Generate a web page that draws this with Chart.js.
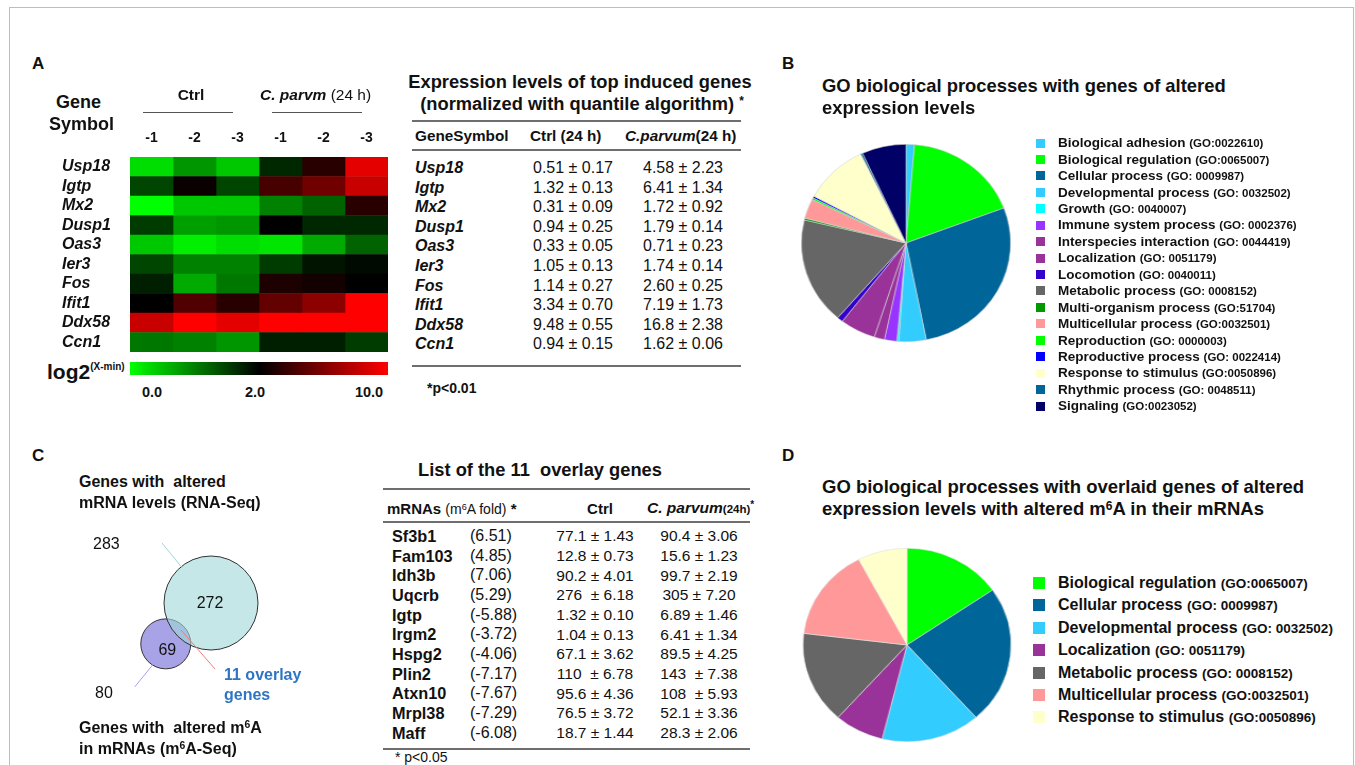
<!DOCTYPE html>
<html>
<head>
<meta charset="utf-8">
<script src="https://cdn.jsdelivr.net/npm/chart.js@4"></script>
<style>
  body { margin: 0; width: 1355px; height: 765px; overflow: hidden; background: #fff; position: relative;
         font-family: "Liberation Sans", Arial, sans-serif; color: #111; }
  .t { position: absolute; white-space: nowrap; line-height: 1; }
  .hr { position: absolute; height: 0; border-top: 2px solid #6e6e6e; }
  canvas { position: absolute; }
  sup { font-size: 65%; vertical-align: 0.45em; line-height: 0; }
</style>
</head>
<body>
<div style="position:absolute;left:9px;top:7px;width:1343px;height:800px;border:1px solid #bdbdbd"></div>
<canvas id="heat" width="333" height="227" style="left:55px;top:125px"></canvas>
<canvas id="pieB" width="198" height="198" style="left:807px;top:144px;transform:scaleX(1.06)"></canvas>
<canvas id="venn" width="220" height="200" style="left:60px;top:520px"></canvas>
<canvas id="pieD" width="194" height="194" style="left:810px;top:548px;transform:scaleX(1.075)"></canvas>
<script>
// ---- panel A: heatmap + table
const samples = ['-1', '-2', '-3', '-1', '-2', '-3'];
const genesA = ['Usp18', 'Igtp', 'Mx2', 'Dusp1', 'Oas3', 'Ier3', 'Fos', 'Ifit1', 'Ddx58', 'Ccn1'];
// log2(X-min) (green 0.0 -> black 2.0 -> red 10.0)
const heat = [
  [0.27, 0.82, 0.43, 1.69, 3.3, 9.2],
  [1.45, 2.3, 1.45, 4.2, 5.5, 8.3],
  [0.0, 0.43, 0.43, 0.98, 1.22, 3.3],
  [1.53, 0.75, 0.82, 2.0, 1.69, 1.69],
  [0.43, 0.12, 0.27, 0.2, 0.67, 1.22],
  [1.45, 0.98, 0.98, 1.53, 1.84, 1.92],
  [1.76, 0.67, 1.06, 2.9, 2.6, 2.0],
  [2.0, 4.5, 3.3, 5.1, 6.4, 10],
  [8.3, 10, 9.2, 10, 10, 10],
  [1.06, 0.98, 0.82, 1.76, 1.76, 1.53]
];
const ctrlA = ['0.51 ± 0.17', '1.32 ± 0.13', '0.31 ± 0.09', '0.94 ± 0.25', '0.33 ± 0.05',
               '1.05 ± 0.13', '1.14 ± 0.27', '3.34 ± 0.70', '9.48 ± 0.55', '0.94 ± 0.15'];
const parvumA = ['4.58 ± 2.23', '6.41 ± 1.34', '1.72 ± 0.92', '1.79 ± 0.14', '0.71 ± 0.23',
                 '1.74 ± 0.14', '2.60 ± 0.25', '7.19 ± 1.73', '16.8 ± 2.38', '1.62 ± 0.06'];

// ---- panel B: GO pie
const goLabelsB = ['Biological adhesion', 'Biological regulation', 'Cellular process', 'Developmental process',
  'Growth', 'Immune system process', 'Interspecies interaction', 'Localization', 'Locomotion',
  'Metabolic process', 'Multi-organism process', 'Multicellular process', 'Reproduction',
  'Reproductive process', 'Response to stimulus', 'Rhythmic process', 'Signaling'];
const goIdsB = ['(GO:0022610)', '(GO:0065007)', '(GO: 0009987)', '(GO: 0032502)', '(GO: 0040007)',
  '(GO: 0002376)', '(GO: 0044419)', '(GO: 0051179)', '(GO: 0040011)', '(GO: 0008152)', '(GO:51704)',
  '(GO:0032501)', '(GO: 0000003)', '(GO: 0022414)', '(GO:0050896)', '(GO: 0048511)', '(GO:0023052)'];
const goShareB = [1.3, 17.9, 27.6, 4.2, 0.3, 1.9, 1.6, 5.5, 0.9, 17.4, 0.3, 3.2, 0.3, 0.3, 10.0, 0.3, 6.8];
const goColorsB = ['#33ccff', '#00ff00', '#006699', '#33ccff', '#00ffff', '#9933ff', '#993399', '#993399',
  '#3300cc', '#666666', '#009900', '#ff9999', '#00ff00', '#0000ff', '#ffffcc', '#006699', '#000066'];

// ---- panel C: venn + overlay gene table
const rnaSeqGenes = 283;
const m6aSeqGenes = 80;
const overlayGenes = 11;
const genesC = ['Sf3b1', 'Fam103', 'Idh3b', 'Uqcrb', 'Igtp', 'Irgm2', 'Hspg2', 'Plin2', 'Atxn10', 'Mrpl38', 'Maff'];
const foldC = ['(6.51)', '(4.85)', '(7.06)', '(5.29)', '(-5.88)', '(-3.72)', '(-4.06)', '(-7.17)', '(-7.67)', '(-7.29)', '(-6.08)'];
const ctrlC = ['77.1 ± 1.43', '12.8 ± 0.73', '90.2 ± 4.01', '276 &nbsp;± 6.18', '1.32 ± 0.10', '1.04 ± 0.13',
               '67.1 ± 3.62', '110 &nbsp;± 6.78', '95.6 ± 4.36', '76.5 ± 3.72', '18.7 ± 1.44'];
const parvumC = ['90.4 ± 3.06', '15.6 ± 1.23', '99.7 ± 2.19', '305 ± 7.20', '6.89 ± 1.46', '6.41 ± 1.34',
                 '89.5 ± 4.25', '143 &nbsp;± 7.38', '108 &nbsp;± 5.93', '52.1 ± 3.36', '28.3 ± 2.06'];

// ---- panel D: GO pie of overlay genes
const goLabelsD = ['Biological regulation', 'Cellular process', 'Developmental process', 'Localization',
  'Metabolic process', 'Multicellular process', 'Response to stimulus'];
const goIdsD = ['(GO:0065007)', '(GO: 0009987)', '(GO: 0032502)', '(GO: 0051179)', '(GO: 0008152)',
  '(GO:0032501)', '(GO:0050896)'];
const goCountsD = [2, 3, 2, 1, 2, 2, 1];
const goColorsD = ['#00ff00', '#006699', '#33ccff', '#993399', '#666666', '#ff9999', '#ffffcc'];

const FONT = '"Liberation Sans", Arial, sans-serif';
Chart.defaults.font.family = FONT;
Chart.defaults.color = '#111';

function txt(x, y, html, size, css, center) {
  const d = document.createElement('div');
  d.className = 't';
  d.innerHTML = html;
  d.style.fontSize = size + 'px';
  d.style.left = x + 'px';
  d.style.top = (y - size / 2) + 'px';
  if (center) d.style.transform = 'translateX(-50%)';
  if (css) d.style.cssText += css;
  document.body.appendChild(d);
  return d;
}
function hline(x1, x2, y, css) {
  const d = document.createElement('div');
  d.className = 'hr';
  d.style.left = x1 + 'px';
  d.style.width = (x2 - x1) + 'px';
  d.style.top = y + 'px';
  if (css) d.style.cssText += css;
  document.body.appendChild(d);
}
const B = 'font-weight:bold;';
const BI = 'font-weight:bold;font-style:italic;';

// panel letters
txt(32, 63, 'A', 17, B);
txt(782, 63, 'B', 17, B);
txt(32, 455, 'C', 17, B);
txt(782, 455, 'D', 17, B);

// ---------- A: heatmap
function heatColor(v) {
  if (v <= 2) return 'rgb(0,' + Math.round(255 * (1 - v / 2)) + ',0)';
  return 'rgb(' + Math.round(255 * Math.min(1, (v - 2) / 8)) + ',0,0)';
}
new Chart(document.getElementById('heat'), {
  type: 'bar',
  data: {
    labels: genesA,
    datasets: samples.map((s, j) => ({
      label: s,
      data: genesA.map(() => 1),
      backgroundColor: heat.map(row => heatColor(row[j])),
      borderWidth: 0,
      barPercentage: 1,
      categoryPercentage: 1
    }))
  },
  options: {
    indexAxis: 'y',
    responsive: false,
    animation: false,
    layout: { padding: { left: 7, right: 0, top: 0, bottom: 0 } },
    plugins: { legend: { display: false }, tooltip: { enabled: false } },
    scales: {
      x: {
        type: 'linear', stacked: true, position: 'top', min: 0, max: samples.length,
        grid: { display: false, drawTicks: false }, border: { display: false },
        afterBuildTicks: s => { s.ticks = samples.map((_, i) => ({ value: i + 0.5 })); },
        afterFit: s => { s.height = 32; s.paddingLeft = 0; s.paddingRight = 0; },
        ticks: { padding: 10, autoSkip: false, maxRotation: 0, color: '#111',
                 font: { size: 14, weight: 'bold' }, callback: (v, i) => samples[i] }
      },
      y: {
        stacked: true,
        grid: { display: false, drawTicks: false }, border: { display: false },
        afterFit: s => { s.width = 68; s.paddingTop = 0; s.paddingBottom = 0; },
        ticks: { crossAlign: 'far', autoSkip: false, color: '#111',
                 font: { size: 16, weight: 'bold', style: 'italic' } }
      }
    }
  }
});
txt(56, 102, 'Gene', 18, B);
txt(49, 124, 'Symbol', 18, B);
txt(191, 95, 'Ctrl', 15.5, B, true);
txt(260, 95, '<span style="font-weight:bold;font-style:italic">C. parvm</span> (24 h)', 15.5);
hline(143, 233, 112, 'border-top:1px solid #555');
hline(272, 362, 112, 'border-top:1px solid #555');
// colour key
const key = document.createElement('div');
key.style.cssText = 'position:absolute;left:130px;top:362px;width:258px;height:13px;' +
  'background:linear-gradient(to right,' + heatColor(0) + ',' + heatColor(2) + ' 50%,' + heatColor(10) + ')';
document.body.appendChild(key);
txt(47, 371, 'log2<span style="font-size:10px;vertical-align:9px">(X-min)</span>', 21, B);
txt(152, 392, '0.0', 14.5, B, true);
txt(255, 392, '2.0', 14.5, B, true);
txt(369, 392, '10.0', 14.5, B, true);

// ---------- A: table
txt(580, 82, 'Expression levels of top induced genes', 18.3, B, true);
txt(582, 104, '(normalized with quantile algorithm) <sup>*</sup>', 18.3, B, true);
hline(412, 741, 120);
txt(415, 136, 'GeneSymbol', 15.3, B);
txt(530, 136, 'Ctrl (24 h)', 15.3, B);
txt(625, 136, '<i>C.parvum</i>(24 h)', 15.3, B);
hline(412, 741, 149);
genesA.forEach((g, i) => {
  const y = 168 + i * 19.6;
  txt(415, y, g, 16, BI);
  txt(573, y, ctrlA[i], 16, '', true);
  txt(683, y, parvumA[i], 16, '', true);
});
hline(412, 741, 365);
txt(427, 388, '*p&lt;0.01', 14, B);

// ---------- B: pie
function htmlLegend(chart, ids, boxX, box, textX, y0, step, size, idSize) {
  const ds = chart.data.datasets[0];
  chart.data.labels.forEach((lab, i) => {
    const y = y0 + i * step;
    const sq = document.createElement('div');
    sq.style.cssText = 'position:absolute;left:' + boxX + 'px;top:' + (y - box / 2) + 'px;width:' + box +
      'px;height:' + box + 'px;background:' + ds.backgroundColor[i];
    document.body.appendChild(sq);
    txt(textX, y, lab + ' <span style="font-size:' + idSize + 'px">' + ids[i] + '</span>', size, B);
  });
}
const pieB = new Chart(document.getElementById('pieB'), {
  type: 'pie',
  data: {
    labels: goLabelsB,
    datasets: [{ data: goShareB, backgroundColor: goColorsB, borderColor: '#d4d4d4', borderWidth: 0.6 }]
  },
  options: {
    responsive: false, animation: false,
    plugins: { legend: { display: false }, tooltip: { enabled: false } }
  }
});
txt(822, 86, 'GO biological processes with genes of altered', 18.4, B);
txt(822, 108, 'expression levels', 18.4, B);
htmlLegend(pieB, goIdsB, 1036, 9, 1058, 143, 16.44, 13.5, 11.5);

// ---------- C: venn
const kR = 47 / Math.sqrt(rnaSeqGenes);
const r1 = kR * Math.sqrt(rnaSeqGenes), r2 = kR * Math.sqrt(m6aSeqGenes);
function lens(d) {
  const a1 = Math.acos((d * d + r1 * r1 - r2 * r2) / (2 * d * r1));
  const a2 = Math.acos((d * d + r2 * r2 - r1 * r1) / (2 * d * r2));
  return r1 * r1 * (a1 - Math.sin(2 * a1) / 2) + r2 * r2 * (a2 - Math.sin(2 * a2) / 2);
}
const target = overlayGenes * Math.PI * kR * kR;
let lo = r1 - r2 + 0.01, hi = r1 + r2;
for (let n = 0; n < 60; n++) {
  const mid = (lo + hi) / 2;
  if (lens(mid) > target) lo = mid; else hi = mid;
}
const dist = (lo + hi) / 2;
const dir = 137.9 * Math.PI / 180;   // small set sits down-left of the large one
const bigC = { x: 151, y: 83 };
const smallC = { x: bigC.x + dist * Math.cos(dir), y: bigC.y + dist * Math.sin(dir) };

const vennLabels = {
  id: 'vennLabels',
  afterDatasetsDraw(chart) {
    const ctx = chart.ctx;
    const big = chart.getDatasetMeta(0).data[0];
    const small = chart.getDatasetMeta(1).data[0];
    ctx.save();
    ctx.lineWidth = 1;
    const seg = (c, x1, y1, x2, y2) => {
      ctx.strokeStyle = c; ctx.beginPath(); ctx.moveTo(x1, y1); ctx.lineTo(x2, y2); ctx.stroke();
    };
    seg('#9fd6d6', big.x - 49, big.y - 60, big.x - 29.5, big.y - 36);
    seg('#a99cf2', small.x - 31, small.y + 43, small.x - 9, small.y + 16);
    seg('#f07c7c', big.x - 30, big.y + 27, big.x + 4, big.y + 66);
    ctx.fillStyle = '#111';
    ctx.font = '16px ' + FONT;
    ctx.textAlign = 'center';
    ctx.textBaseline = 'middle';
    ctx.fillText(String(rnaSeqGenes - overlayGenes), big.x - 1, big.y + 1);
    ctx.fillText(String(m6aSeqGenes - overlayGenes), small.x + 1.5, small.y + 7);
    ctx.restore();
  }
};
new Chart(document.getElementById('venn'), {
  type: 'bubble',
  data: {
    datasets: [
      { label: 'RNA-Seq', data: [{ x: bigC.x, y: bigC.y, r: r1 }], clip: false,
        backgroundColor: 'rgba(160,215,215,0.6)', borderColor: '#333', borderWidth: 1 },
      { label: 'm6A-Seq', data: [{ x: smallC.x, y: smallC.y, r: r2 }], clip: false,
        backgroundColor: 'rgb(168,163,230)', borderColor: '#333', borderWidth: 1 }
    ]
  },
  options: {
    responsive: false, animation: false,
    layout: { padding: 0, autoPadding: false },
    plugins: { legend: { display: false }, tooltip: { enabled: false } },
    scales: {
      x: { type: 'linear', min: 0, max: 220, display: false },
      y: { type: 'linear', min: 0, max: 200, reverse: true, display: false }
    }
  },
  plugins: [vennLabels]
});
txt(79, 482, 'Genes with &nbsp;altered', 16, B);
txt(79, 503, 'mRNA levels (RNA-Seq)', 16, B);
txt(93, 544, String(rnaSeqGenes), 16);
txt(95, 693, String(m6aSeqGenes), 16);
txt(224, 675, overlayGenes + ' overlay', 16, B + 'color:#2e75c4');
txt(224, 695, 'genes', 16, B + 'color:#2e75c4');
txt(79, 728, 'Genes with &nbsp;altered m<sup>6</sup>A', 16, B);
txt(79, 749, 'in mRNAs (m<sup>6</sup>A-Seq)', 16, B);

// ---------- C: table
txt(540, 470, 'List of the ' + overlayGenes + ' &nbsp;overlay genes', 18.3, B, true);
hline(383, 750, 488);
txt(387, 508, '<b>mRNAs</b> <span style="font-size:14px">(m<sup>6</sup>A fold)</span> <b>*</b>', 15);
txt(600, 508, 'Ctrl', 15, B, true);
txt(647, 508, '<i>C. parvum</i><span style="font-size:11.5px">(24h)</span><sup>*</sup>', 15.5, B);
hline(383, 750, 521);
genesC.forEach((g, i) => {
  const y = 536 + i * 19.67;
  txt(392, y, g, 16.3, B);
  txt(470, y, foldC[i], 16);
  txt(595, y, ctrlC[i], 15.5, '', true);
  txt(699, y, parvumC[i], 15.5, '', true);
});
hline(383, 750, 748);
txt(395, 757, '* p&lt;0.05', 14);

// ---------- D: pie
const pieD = new Chart(document.getElementById('pieD'), {
  type: 'pie',
  data: {
    labels: goLabelsD,
    datasets: [{ data: goCountsD, backgroundColor: goColorsD, borderColor: '#e0e0e0', borderWidth: 0.6 }]
  },
  options: {
    responsive: false, animation: false,
    plugins: { legend: { display: false }, tooltip: { enabled: false } }
  }
});
txt(822, 487, 'GO biological processes with overlaid genes of altered', 18.5, B);
txt(822, 509, 'expression levels with altered m<sup>6</sup>A in their mRNAs', 18.5, B);
htmlLegend(pieD, goIdsD, 1033, 12, 1058, 583, 22.4, 16, 13.5);
</script>
</body>
</html>
